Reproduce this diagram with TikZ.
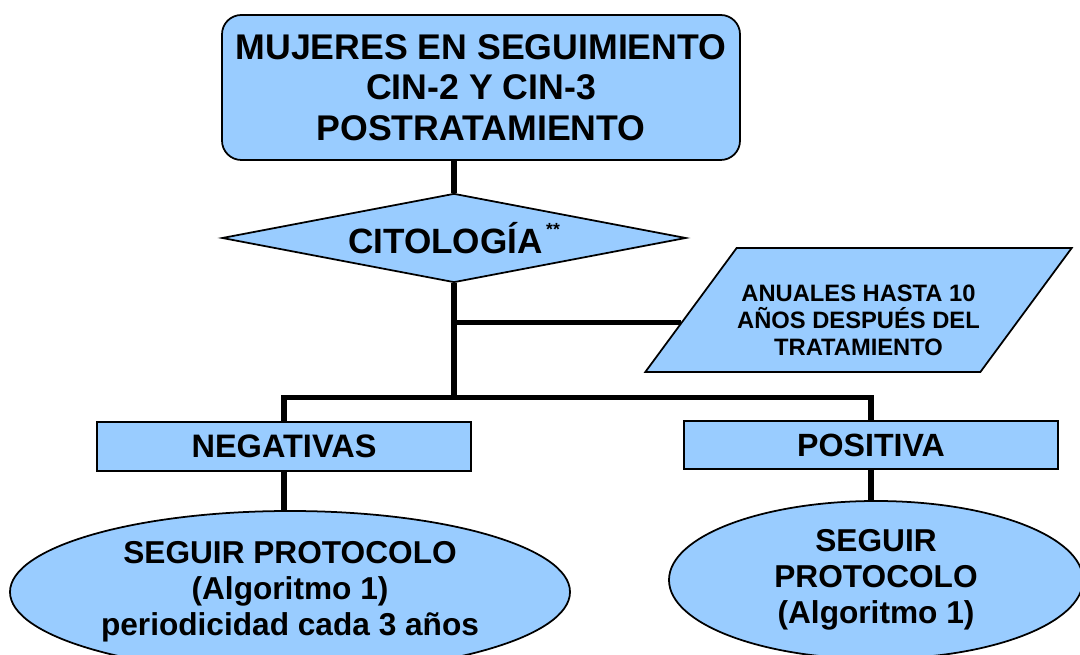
\documentclass[tikz,border=0pt]{standalone}
\usepackage{fontspec}
\setmainfont{Liberation Sans}
\usepackage{xcolor}
\definecolor{cellblue}{RGB}{153,204,255}
\usetikzlibrary{positioning, shapes.geometric}

\begin{document}
\begin{tikzpicture}[
  shapebox/.style={draw=black, fill=cellblue, line width=1pt, align=center, inner sep=0pt},
  trunk/.style={line width=3pt}
]
  \useasboundingbox (0,0) rectangle (21.6,13.08);

  % --- Top: start box ---
  \node[shapebox, rounded corners=11pt, minimum width=10.36cm, minimum height=2.9cm,
        font=\fontsize{20.3}{23.2}\selectfont\bfseries] (mujeres) at (9.62,11.33)
        {MUJERES EN SEGUIMIENTO\\CIN-2 Y CIN-3\\POSTRATAMIENTO};

  % --- Decision ---
  \node[shapebox, diamond, aspect=5.2, minimum width=9.28cm, minimum height=1.78cm,
        font=\fontsize{20}{22}\selectfont\bfseries] (cito) at (9.08,8.32)
        {CITOLOGÍA\hspace{2pt}\raisebox{10pt}{\fontsize{10}{10}\selectfont **}};

  % --- Side note ---
  \node[shapebox, trapezium, trapezium left angle=45, trapezium right angle=135,
        trapezium stretches=true, minimum width=8.54cm, minimum height=2.48cm,
        font=\fontsize{13.5}{15.3}\selectfont\bfseries] (anuales) at (17.17,6.88)
        {\rule{0pt}{21pt}ANUALES HASTA 10\\AÑOS DESPUÉS DEL\\TRATAMIENTO};

  % --- Results ---
  \node[shapebox, minimum width=7.48cm, minimum height=0.98cm,
        font=\fontsize{18.5}{21}\selectfont\bfseries] (negativas) at (5.68,4.15) {NEGATIVAS};
  \node[shapebox, minimum width=7.48cm, minimum height=0.96cm,
        font=\fontsize{18.3}{21}\selectfont\bfseries] (positiva) at (17.42,4.18) {POSITIVA};

  % --- Protocols ---
  \node[shapebox, ellipse, minimum width=11.2cm, minimum height=3.24cm,
        font=\fontsize{18}{20.5}\selectfont\bfseries] (protneg) at (5.8,1.24)
        {SEGUIR PROTOCOLO\\(Algoritmo 1)\\periodicidad cada 3 años};
  \node[shapebox, ellipse, minimum width=8.28cm, minimum height=3.16cm,
        font=\fontsize{18}{20.5}\selectfont\bfseries] (protpos) at (17.52,1.48)
        {SEGUIR\\PROTOCOLO\\(Algoritmo 1)};

  % --- Connectors ---
  \coordinate (bar) at (0,5.13);
  \draw[trunk] (cito.north |- mujeres.south) -- (cito.north);
  \draw[trunk] (cito.south) -- (cito.south |- bar);
  \draw[trunk] (cito.south |- anuales.184) -- (anuales.184);
  \draw[trunk] (negativas.north) |- (positiva.north |- bar) -- (positiva.north);
  \draw[trunk] (negativas.south) -- (negativas.south |- protneg.north);
  \draw[trunk] (positiva.south) -- (positiva.south |- protpos.north);
\end{tikzpicture}
\end{document}
